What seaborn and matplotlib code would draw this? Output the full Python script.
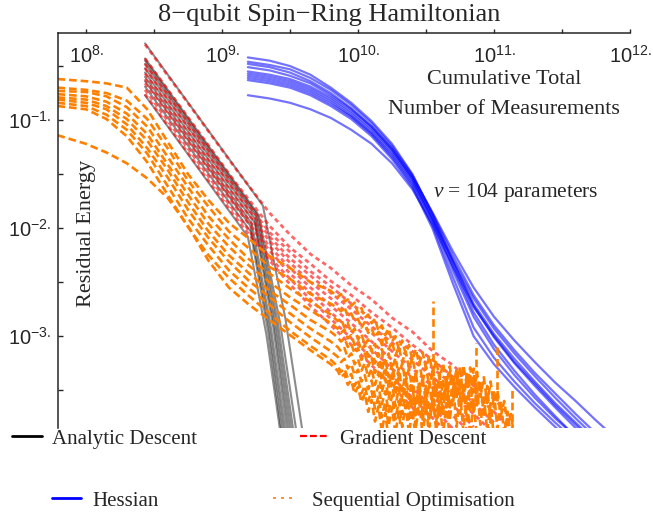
import matplotlib
matplotlib.use("Agg")
import matplotlib.pyplot as plt
from matplotlib.lines import Line2D
from matplotlib.ticker import FixedLocator, NullFormatter
import numpy as np
import pandas as pd
import seaborn as sns

# ---------------------------------------------------------------------------
# Data: log10(cumulative measurements) and log10(residual energy) per run
# ---------------------------------------------------------------------------

# Analytic Descent runs (individual x positions per run)
analytic_logx = [
    [8.434, 9.30, 9.467, 9.600],
    [8.434, 9.27, 9.429, 9.555],
    [8.434, 9.26, 9.412, 9.533],
    [8.434, 9.25, 9.399, 9.518],
    [8.434, 9.24, 9.387, 9.503],
    [8.434, 9.24, 9.378, 9.488],
    [8.434, 9.22, 9.361, 9.473],
    [8.434, 9.21, 9.349, 9.459],
    [8.434, 9.21, 9.340, 9.445],
    [8.434, 9.19, 9.327, 9.436],
]
analytic_logy = [
    [-0.29, -1.79, -2.845, -3.95],
    [-0.43, -1.88, -2.890, -3.95],
    [-0.45, -1.88, -2.890, -3.95],
    [-0.48, -1.89, -2.895, -3.95],
    [-0.52, -1.91, -2.905, -3.95],
    [-0.56, -1.95, -2.925, -3.95],
    [-0.60, -1.96, -2.930, -3.95],
    [-0.64, -1.98, -2.940, -3.95],
    [-0.69, -2.03, -2.965, -3.95],
    [-0.77, -2.08, -2.990, -3.95],
]

# Gradient Descent runs (shared x grid)
gradient_logx = [8.434, 8.8, 9.1, 9.35, 9.5, 9.65, 9.8, 9.95, 10.1, 10.25,
                 10.4, 10.55, 10.7, 10.85, 11.0, 11.12]
gradient_logy = [
    [-0.30, -0.93, -1.45, -1.86, -2.06, -2.24, -2.37, -2.53, -2.66, -2.83, -2.96, -3.14, -3.27, -3.46, -3.58, -3.74],
    [-0.43, -1.06, -1.58, -1.98, -2.18, -2.33, -2.49, -2.62, -2.78, -2.92, -3.08, -3.22, -3.38, -3.53, -3.70, -3.86],
    [-0.48, -1.11, -1.63, -2.04, -2.22, -2.40, -2.54, -2.70, -2.84, -3.00, -3.14, -3.30, -3.45, -3.62, -3.80],
    [-0.52, -1.15, -1.67, -2.08, -2.28, -2.44, -2.60, -2.75, -2.91, -3.06, -3.22, -3.38, -3.55, -3.72, -3.90],
    [-0.57, -1.20, -1.72, -2.12, -2.32, -2.50, -2.65, -2.82, -2.97, -3.14, -3.30, -3.47, -3.64, -3.84],
    [-0.62, -1.25, -1.77, -2.17, -2.37, -2.55, -2.72, -2.88, -3.05, -3.22, -3.38, -3.56, -3.74, -3.92],
    [-0.66, -1.29, -1.80, -2.21, -2.42, -2.60, -2.78, -2.95, -3.12, -3.30, -3.48, -3.66, -3.86],
    [-0.72, -1.35, -1.86, -2.27, -2.47, -2.66, -2.84, -3.02, -3.20, -3.38, -3.57, -3.76, -3.95],
    [-0.76, -1.39, -1.90, -2.30, -2.52, -2.72, -2.90, -3.08, -3.27, -3.46, -3.66, -3.86],
]

# Hessian runs (shared x grid)
hessian_logx = [9.19, 9.35, 9.5, 9.65, 9.8, 9.95, 10.1, 10.25, 10.4, 10.55,
                10.7, 10.85, 11.0, 11.15, 11.3, 11.45, 11.6, 11.75, 11.9]
hessian_logy = [
    [-0.42, -0.45, -0.50, -0.58, -0.70, -0.84, -1.01, -1.22, -1.50, -1.88, -2.31, -2.70, -2.98, -3.21, -3.42, -3.62, -3.80, -3.98],
    [-0.46, -0.49, -0.53, -0.61, -0.72, -0.86, -1.03, -1.24, -1.51, -1.87, -2.26, -2.62, -2.90, -3.13, -3.34, -3.53, -3.72, -3.90, -4.05],
    [-0.48, -0.51, -0.56, -0.64, -0.75, -0.89, -1.06, -1.27, -1.54, -1.92, -2.36, -2.78, -3.08, -3.32, -3.54, -3.74, -3.93],
    [-0.51, -0.54, -0.59, -0.66, -0.77, -0.90, -1.06, -1.26, -1.52, -1.86, -2.22, -2.55, -2.82, -3.04, -3.24, -3.43, -3.60, -3.78, -3.95],
    [-0.55, -0.58, -0.62, -0.69, -0.79, -0.92, -1.08, -1.28, -1.54, -1.90, -2.32, -2.72, -3.01, -3.25, -3.46, -3.66, -3.85, -4.02],
    [-0.57, -0.60, -0.64, -0.71, -0.81, -0.94, -1.10, -1.30, -1.56, -1.94, -2.40, -2.82, -3.12, -3.36, -3.57, -3.76, -3.93],
    [-0.59, -0.62, -0.66, -0.73, -0.83, -0.96, -1.12, -1.32, -1.58, -1.93, -2.30, -2.65, -2.93, -3.16, -3.37, -3.57, -3.76, -3.94],
    [-0.61, -0.64, -0.68, -0.75, -0.85, -0.97, -1.13, -1.34, -1.60, -1.98, -2.46, -2.92, -3.20, -3.42, -3.62, -3.80, -3.97],
    [-0.63, -0.66, -0.70, -0.77, -0.87, -0.99, -1.15, -1.36, -1.62, -2.01, -2.52, -3.00, -3.26, -3.47, -3.66, -3.84, -4.00],
    [-0.77, -0.80, -0.84, -0.90, -0.98, -1.09, -1.22, -1.40, -1.64, -1.97, -2.36, -2.73, -3.00, -3.24, -3.44, -3.64, -3.82, -4.00],
]

# Sequential Optimisation runs (shared x grid, finer in the noisy tail)
sequential_logx = [7.79, 8.0, 8.15, 8.3, 8.45, 8.6, 8.75, 8.9, 9.05, 9.2, 9.35, 9.5, 9.65, 9.8,
                   9.85, 9.875, 9.9, 9.925, 9.95, 9.975, 10.0, 10.025, 10.05, 10.075,
                   10.1, 10.125, 10.15, 10.175, 10.2, 10.225, 10.25, 10.275, 10.3, 10.325,
                   10.35, 10.375, 10.4, 10.425, 10.45, 10.475, 10.5, 10.525, 10.55, 10.575,
                   10.6, 10.625, 10.65, 10.675, 10.7, 10.725, 10.75, 10.775, 10.8, 10.825,
                   10.85, 10.875, 10.9, 10.925, 10.95, 10.975, 11.0, 11.025, 11.05, 11.075,
                   11.1, 11.125, 11.15]
sequential_logy = [
    [-0.62, -0.64, -0.66, -0.70, -0.90, -1.20, -1.50, -1.74, -1.95, -2.10, -2.26, -2.37, -2.50, -2.58,
     -2.64, -2.61, -2.68, -2.66, -2.72, -2.69, -2.79, -2.74, -2.83, -2.80, -2.88, -2.84, -2.95, -2.90,
     -2.99, -2.93, -3.05, -3.00, -3.12, -3.04, -3.16, -3.08, -3.22, -3.12, -3.26, -3.15, -3.30, -3.18,
     -3.36, -3.22, -3.40, -3.25, -3.44, -3.28, -3.48, -3.30, -3.50, -3.27, -3.46, -3.29, -3.52, -3.33,
     -3.56, -3.38, -3.62, -3.42, -3.66, -3.50, -3.74, -3.60, -3.82, -3.72, -3.95],
    [-0.70, -0.72, -0.75, -0.82, -0.99, -1.26, -1.56, -1.80, -2.03, -2.19, -2.36, -2.47, -2.61, -2.70,
     -2.74, -2.77, -2.73, -2.82, -2.79, -2.86, -2.84, -2.92, -2.87, -2.97, -2.93, -3.01, -2.96, -3.08,
     -3.02, -3.12, -3.05, -3.18, -3.10, -3.24, -3.14, -3.30, -3.20, -3.36, -3.24, -3.42, -3.28, -3.48,
     -3.30, -3.55, -3.34, -3.60, -3.40, -3.66, -3.36, -3.58, -3.28, -3.62, -3.35, -3.70, -3.30, -3.64,
     -3.42, -3.74, -3.46, -3.80, -3.52, -3.86, -3.60, -3.90, -3.70, -3.95],
    [-0.73, -0.74, -0.78, -0.88, -1.06, -1.34, -1.62, -1.89, -2.10, -2.29, -2.42, -2.56, -2.68, -2.80,
     -2.86, -2.84, -2.92, -2.88, -2.97, -2.93, -3.03, -2.98, -3.08, -3.03, -3.14, -3.07, -3.19, -3.12,
     -3.25, -3.16, -3.31, -3.20, -3.37, -3.25, -3.43, -3.30, -3.50, -3.34, -3.57, -3.38, -3.63, -3.42,
     -3.70, -3.45, -3.74, -3.40, -3.66, -3.33, -3.60, -3.38, -3.72, -3.44, -3.78, -3.36, -3.70, -3.48,
     -3.82, -3.55, -3.88, -3.62, -3.95],
    [-0.76, -0.78, -0.83, -0.94, -1.13, -1.41, -1.69, -1.96, -2.17, -2.35, -2.50, -2.64, -2.76, -2.88,
     -2.93, -2.97, -2.94, -3.02, -2.99, -3.08, -3.04, -3.13, -3.08, -3.19, -3.12, -3.25, -3.16, -3.31,
     -3.21, -3.38, -3.26, -3.44, -3.30, -3.51, -3.34, -3.58, -3.38, -3.64, -3.42, -3.70, -3.46, -3.76,
     -3.48, -3.80, -3.44, -3.72, -3.39, -3.78, -3.47, -3.84, -3.52, -3.88, -3.56, -3.92, -3.60, -3.95],
    [-0.79, -0.81, -0.87, -0.99, -1.19, -1.46, -1.76, -2.03, -2.25, -2.42, -2.58, -2.71, -2.85, -2.96,
     -3.01, -3.05, -3.02, -3.10, -3.07, -3.16, -3.11, -3.22, -3.16, -3.28, -3.20, -3.34, -3.25, -3.41,
     -3.29, -3.47, -3.33, -3.54, -3.38, -3.60, -3.42, -3.67, -3.46, -3.73, -3.50, -3.79, -3.53, -3.84,
     -3.56, -3.88, -3.60, -3.92, -3.62, -3.95],
    [-0.81, -0.84, -0.90, -1.04, -1.26, -1.53, -1.83, -2.09, -2.31, -2.49, -2.64, -2.79, -2.93, -3.05,
     -3.10, -3.14, -3.11, -3.20, -3.16, -3.26, -3.21, -3.32, -3.25, -3.38, -3.30, -3.45, -3.34, -3.52,
     -3.39, -3.58, -3.43, -3.65, -3.48, -3.72, -3.52, -3.79, -3.56, -3.86, -3.60, -3.92, -3.64, -3.95],
    [-0.84, -0.87, -0.95, -1.09, -1.31, -1.61, -1.91, -2.16, -2.39, -2.56, -2.71, -2.87, -3.01, -3.14,
     -3.19, -3.24, -3.21, -3.30, -3.26, -3.36, -3.31, -3.42, -3.36, -3.49, -3.41, -3.56, -3.46, -3.63,
     -3.51, -3.70, -3.55, -3.77, -3.60, -3.84, -3.64, -3.90, -3.68, -3.95],
    [-0.87, -0.90, -0.99, -1.15, -1.39, -1.69, -1.99, -2.25, -2.46, -2.63, -2.79, -2.95, -3.09, -3.22,
     -3.28, -3.33, -3.30, -3.39, -3.35, -3.46, -3.40, -3.53, -3.46, -3.60, -3.51, -3.67, -3.56, -3.75,
     -3.61, -3.83, -3.66, -3.90, -3.70, -3.95],
    [-1.14, -1.22, -1.30, -1.40, -1.54, -1.72, -1.98, -2.30, -2.55, -2.71, -2.85, -2.99, -3.13, -3.26,
     -3.32, -3.38, -3.35, -3.45, -3.41, -3.53, -3.47, -3.61, -3.53, -3.70, -3.59, -3.79, -3.65, -3.88,
     -3.71, -3.95],
]
# Isolated outlier spikes in the sequential runs
spike_logx = [10.18, 10.55, 10.87, 11.02, 11.13]
spike_low = [-3.30, -3.55, -3.50, -3.60, -3.90]
spike_high = [-2.97, -2.67, -3.06, -3.10, -3.47]

methods = ["Analytic Descent", "Gradient Descent", "Hessian", "Sequential Optimisation"]

# ---------------------------------------------------------------------------
# Long-form table
# ---------------------------------------------------------------------------
rows = []
for run, (xs, ys) in enumerate(zip(analytic_logx, analytic_logy)):
    rows += [(methods[0], run, lx, ly) for lx, ly in zip(xs, ys)]
for run, ys in enumerate(gradient_logy):
    rows += [(methods[1], run, lx, ly) for lx, ly in zip(gradient_logx, ys)]
for run, ys in enumerate(hessian_logy):
    rows += [(methods[2], run, lx, ly) for lx, ly in zip(hessian_logx, ys)]
for run, ys in enumerate(sequential_logy):
    rows += [(methods[3], run, lx, ly) for lx, ly in zip(sequential_logx, ys)]
for k, (lx, lo, hi) in enumerate(zip(spike_logx, spike_low, spike_high)):
    rows += [(methods[3], 100 + k, lx, lo), (methods[3], 100 + k, lx, hi)]

df = pd.DataFrame(rows, columns=["method", "run", "logx", "logy"])
df["measurements"] = 10.0 ** df["logx"]
df["energy"] = 10.0 ** df["logy"]

# ---------------------------------------------------------------------------
# Style
# ---------------------------------------------------------------------------
sns.set_style("ticks")
plt.rcParams.update({
    "font.family": ["Liberation Serif", "DejaVu Serif"],
    "mathtext.fontset": "custom",
    "mathtext.rm": "Liberation Serif",
    "mathtext.it": "Liberation Serif:italic",
    "mathtext.sf": "Liberation Sans",
    "axes.linewidth": 1.1,
})

line_styles = {
    "Analytic Descent": dict(color="black", alpha=0.45, linewidth=1.5, linestyle="-"),
    "Gradient Descent": dict(color="#ff0000", alpha=0.6, linewidth=2.0, linestyle=(0, (1.6, 1.3))),
    "Hessian": dict(color="#0000ff", alpha=0.55, linewidth=1.6, linestyle="-"),
    "Sequential Optimisation": dict(color="#ff8000", alpha=1.0, linewidth=1.9, linestyle=(0, (2.9, 1.5))),
}

W, H = 653, 517
fig = plt.figure(figsize=(W / 100, H / 100), dpi=100)
ax = fig.add_axes([58 / W, 1 - 428 / H, (630 - 58) / W, (428 - 33) / H])
ax.set_xscale("log")
ax.set_yscale("log")

for m in methods:
    sns.lineplot(data=df[df["method"] == m], x="measurements", y="energy",
                 units="run", estimator=None, legend=False, ax=ax, **line_styles[m])

ax.set_xlim(10 ** 7.794, 1e12)
ax.set_ylim(10 ** -3.85, 10 ** -0.194)
ax.set_xlabel("")
ax.set_ylabel("")

# Axes: frame on top and left only
ax.spines["bottom"].set_visible(False)
ax.spines["right"].set_visible(False)

x_major = [1e8, 1e9, 1e10, 1e11, 1e12]
x_labels = [r"$\mathsf{10^{%d.}}$" % e for e in range(8, 13)]
ax.xaxis.set_major_locator(FixedLocator(x_major))
ax.set_xticklabels(x_labels)
ax.xaxis.set_minor_locator(FixedLocator([10 ** (e + 0.5) for e in range(8, 12)]))
ax.xaxis.set_minor_formatter(NullFormatter())
ax.tick_params(axis="x", which="both", top=True, bottom=False, labeltop=True,
               labelbottom=False, direction="out", length=3, width=1.0,
               pad=-28, labelsize=14.5)

y_major = [1e-3, 1e-2, 1e-1]
y_labels = [r"$\mathsf{10^{-%d.}}$" % e for e in (3, 2, 1)]
ax.yaxis.set_major_locator(FixedLocator(y_major))
ax.set_yticklabels(y_labels)
ax.yaxis.set_minor_locator(FixedLocator([10 ** -0.5, 10 ** -1.5, 10 ** -2.5, 10 ** -3.5]))
ax.yaxis.set_minor_formatter(NullFormatter())
ax.tick_params(axis="y", which="both", left=True, right=False, direction="in",
               length=3.6, width=1.0, pad=5, labelsize=14.5)

# Text
fig.text(329.5 / W, 1 - 15 / H, "8\u2212qubit Spin\u2212Ring Hamiltonian",
         ha="center", va="center", fontsize=19)
fig.text(87 / W, 1 - 233 / H, "Residual Energy", rotation=90,
         ha="center", va="center", fontsize=16)
fig.text(504 / W, 1 - 80 / H, "Cumulative Total", ha="center", va="center", fontsize=16)
fig.text(504 / W, 1 - 110 / H, "Number of Measurements", ha="center", va="center", fontsize=16)
fig.text(516 / W, 1 - 193 / H, r"$\nu$ = 104 parameters", ha="center", va="center", fontsize=15.5)

# Legend entries laid out in two rows under the axes
legend_entries = [
    ("Analytic Descent", Line2D([], [], color="black", linewidth=2.0), 12, 439, 1.44, 0.48),
    ("Gradient Descent", Line2D([], [], color="#ff0000", linewidth=1.6, linestyle=(0, (3.1, 1.35))), 300, 439, 1.34, 0.58),
    ("Hessian", Line2D([], [], color="#0000ff", linewidth=2.0), 52, 501, 1.39, 0.53),
    ("Sequential Optimisation", Line2D([], [], color="#ff8000", linewidth=1.2, linestyle=(0, (1.8, 3.0))), 273, 501, 1.15, 0.72),
]
for label, handle, px, py, hl, tp in legend_entries:
    fig.legend([handle], [label], loc="center left", bbox_to_anchor=(px / W, 1 - py / H),
               frameon=False, fontsize=15, handlelength=hl, handletextpad=tp,
               borderpad=0, borderaxespad=0)

fig.savefig("out.png", dpi=100)
